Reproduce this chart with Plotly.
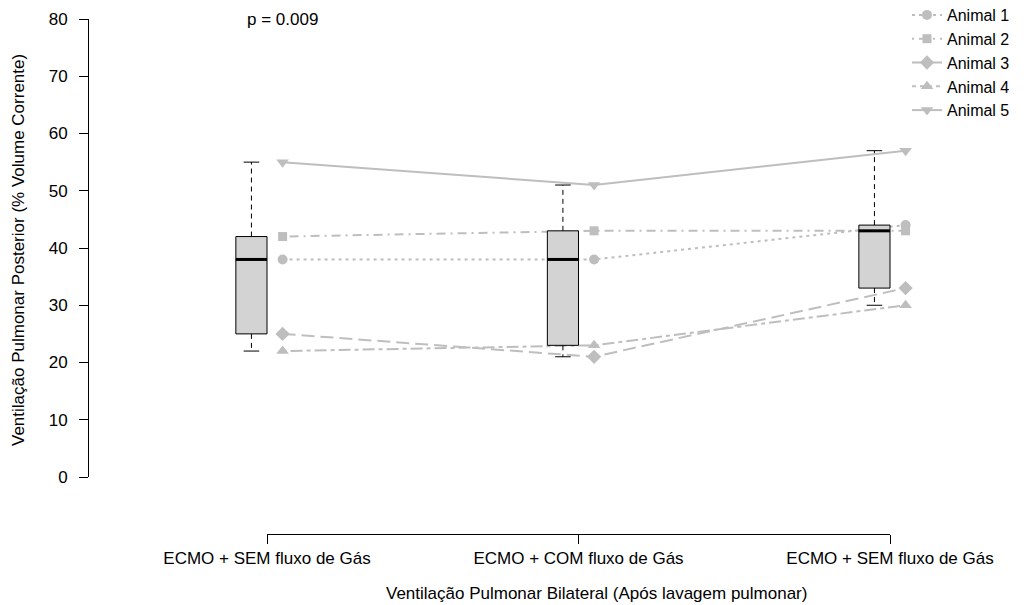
import numpy as np
import plotly.graph_objects as go

# ---- data ----
conditions = ["ECMO + SEM fluxo de Gás", "ECMO + COM fluxo de Gás", "ECMO + SEM fluxo de Gás"]
animal_names = ["Animal 1", "Animal 2", "Animal 3", "Animal 4", "Animal 5"]
animal1 = [38, 38, 44]
animal2 = [42, 43, 43]
animal3 = [25, 21, 33]
animal4 = [22, 23, 30]
animal5 = [55, 51, 57]
y_ticks = [0, 10, 20, 30, 40, 50, 60, 70, 80]
p_text = "p = 0.009"

animals = [animal1, animal2, animal3, animal4, animal5]
symbols = ["circle", "square", "diamond", "triangle-up", "triangle-down"]
msizes = [10, 9, 11, 11, 11]
dashes = ["3px,4px", "2px,5px,9px,5px", "13px,6px", "4px,4px,12px,4px", "solid"]

pos = np.arange(1, len(conditions) + 1)
box_pos = pos - 0.05
pt_pos = pos + 0.05

data = np.array(animals, dtype=float)  # shape animals x conditions
q1 = np.percentile(data, 25, axis=0)
med = np.median(data, axis=0)
q3 = np.percentile(data, 75, axis=0)
mn = data.min(axis=0)
mx = data.max(axis=0)

FONT = "Liberation Sans, Arial, Helvetica, sans-serif"
grey = "#BEBEBE"
box_w = 0.1
cap_half = 0.025

fig = go.Figure()

# animals (drawn first, beneath the boxes)
for name, vals, sym, ms, d in zip(animal_names, animals, symbols, msizes, dashes):
    fig.add_trace(go.Scatter(
        x=pt_pos, y=vals, mode="lines+markers", name=name,
        line=dict(color=grey, width=2, dash=d),
        marker=dict(symbol=sym, size=ms, color=grey),
    ))

# boxes on an overlaying axis so they sit on top of the lines
fig.add_trace(go.Box(
    x=box_pos, q1=q1, median=med, q3=q3, lowerfence=q1, upperfence=q3,
    width=box_w, whiskerwidth=0, fillcolor="#D3D3D3",
    line=dict(color="black", width=1), showlegend=False, hoverinfo="skip",
    boxpoints=False, xaxis="x3", yaxis="y",
))

# whiskers (dashed)
wx, wy = [], []
for i in range(len(pos)):
    wx += [box_pos[i], box_pos[i], None, box_pos[i], box_pos[i], None]
    wy += [q3[i], mx[i], None, q1[i], mn[i], None]
fig.add_trace(go.Scatter(x=wx, y=wy, mode="lines", line=dict(color="black", width=1, dash="5px,4px"),
                         showlegend=False, hoverinfo="skip", xaxis="x3", yaxis="y"))
# staples
cx, cy = [], []
for i in range(len(pos)):
    cx += [box_pos[i] - cap_half, box_pos[i] + cap_half, None, box_pos[i] - cap_half, box_pos[i] + cap_half, None]
    cy += [mx[i], mx[i], None, mn[i], mn[i], None]
fig.add_trace(go.Scatter(x=cx, y=cy, mode="lines", line=dict(color="black", width=1),
                         showlegend=False, hoverinfo="skip", xaxis="x3", yaxis="y"))
# medians (thick)
mxs, mys = [], []
for i in range(len(pos)):
    mxs += [box_pos[i] - box_w / 2, box_pos[i] + box_w / 2, None]
    mys += [med[i], med[i], None]
fig.add_trace(go.Scatter(x=mxs, y=mys, mode="lines", line=dict(color="black", width=3),
                         showlegend=False, hoverinfo="skip", xaxis="x3", yaxis="y"))

# dummy trace to carry the category axis
fig.add_trace(go.Scatter(x=pos, y=[None] * len(pos), xaxis="x2", yaxis="y",
                         showlegend=False, hoverinfo="skip"))

W, H = 1029, 605
L, R, T, B = 89, 0, 19, 71
pw = W - L - R
ph = H - T - B
px_per_unit = 311.5
x1_px = 267 - L
x3_px = 890 - L
xr0 = 1 - x1_px / px_per_unit
xr1 = 3 + (pw - x3_px) / px_per_unit
ydom0 = (534 - 477) / ph

fig.update_layout(
    width=W, height=H,
    margin=dict(l=L, r=R, t=T, b=B, pad=0, autoexpand=False),
    paper_bgcolor="white", plot_bgcolor="rgba(0,0,0,0)",
    font=dict(family=FONT, size=17, color="black"),
    xaxis=dict(range=[xr0, xr1], visible=False, domain=[0, 1], anchor="y"),
    xaxis3=dict(range=[xr0, xr1], visible=False, overlaying="x", anchor="y"),
    xaxis2=dict(range=[1, 3], domain=[x1_px / pw, x3_px / pw], anchor="free", position=0,
                tickmode="array", tickvals=list(pos), ticktext=conditions,
                showline=True, linecolor="black", linewidth=1, ticks="outside", ticklen=9,
                tickcolor="black", showgrid=False, zeroline=False, ticklabelstandoff=0,
                tickfont=dict(size=17)),
    yaxis=dict(range=[0, 80], domain=[ydom0, 1], anchor="x", tickvals=y_ticks,
               showline=True, linecolor="black", linewidth=1, ticks="outside", ticklen=9,
               tickcolor="black", showgrid=False, zeroline=False, ticklabelstandoff=8,
               tickfont=dict(size=17)),
    legend=dict(x=(907 - L) / pw, xanchor="left", y=1 + 21 / ph, yanchor="top",
                bgcolor="rgba(0,0,0,0)", font=dict(size=16), tracegroupgap=0, itemwidth=30),
    showlegend=True,
    annotations=[
        dict(text=p_text, x=1.05, y=80, xref="x", yref="y", showarrow=False,
             font=dict(size=17), xanchor="center", yanchor="middle"),
        dict(text="Ventilação Pulmonar Bilateral (Após lavagem pulmonar)", x=(596 - L) / pw,
             y=-(593 - 534) / ph, xref="paper", yref="paper", showarrow=False,
             font=dict(size=17), xanchor="center", yanchor="middle"),
        dict(text="Ventilação Pulmonar Posterior (% Volume Corrente)", x=(18 - L) / pw,
             y=(534 - 250) / ph, xref="paper", yref="paper", showarrow=False, textangle=-90,
             font=dict(size=17), xanchor="center", yanchor="middle"),
    ],
)

fig.write_html("out.html")
